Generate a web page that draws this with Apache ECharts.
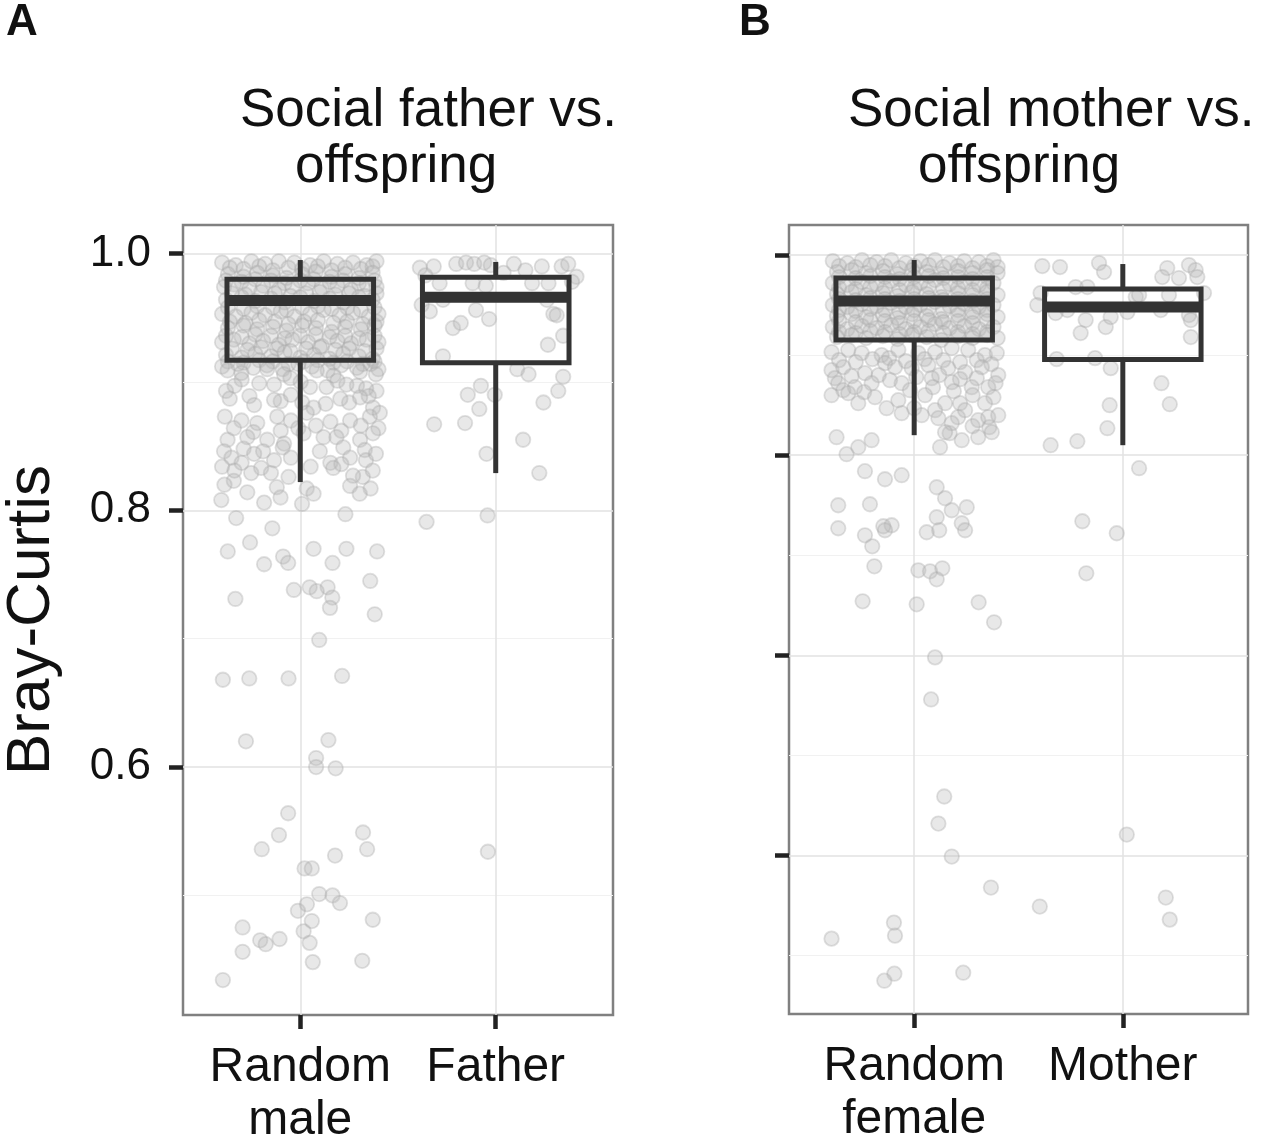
<!DOCTYPE html>
<html>
<head>
<meta charset="utf-8">
<script src="https://cdn.jsdelivr.net/npm/echarts@6/dist/echarts.min.js"></script>
<style>
html,body{margin:0;padding:0;background:#fff;}
#chart{width:1267px;height:1147px;}
</style>
</head>
<body>
<div id="chart"></div>
<script>
// ---------- data ----------
const yTicks = [0.4, 0.6, 0.8, 1.0];
const catsA = ['Random\nmale', 'Father'];
const catsB = ['Random\nfemale', 'Mother'];
const titleA = ['Social father vs.', 'offspring'];
const titleB = ['Social mother vs.', 'offspring'];
const yName = 'Bray-Curtis';

// boxes: [group position, lower whisker, Q1, median, Q3, upper whisker]
const boxA = [
  [1, 0.822, 0.917, 0.9635, 0.980, 0.995],
  [2, 0.829, 0.915, 0.966, 0.9815, 0.9935]
];
const boxB = [
  [1, 0.820, 0.915, 0.954, 0.977, 0.995],
  [2, 0.810, 0.8955, 0.948, 0.966, 0.991]
];

// jittered points: [group position + jitter, Bray-Curtis value]
const ptsRandomMale = [
  [0.60,0.993],[0.67,0.991],[0.75,0.994],[0.82,0.992],[0.89,0.994],[0.97,0.993],[1.05,0.991],[1.12,0.994],[1.19,0.992],[1.27,0.993],[1.34,0.991],[1.39,0.994],
  [0.64,0.989],[0.71,0.988],[0.79,0.990],[0.86,0.987],[0.94,0.989],[1.01,0.988],[1.09,0.990],[1.16,0.987],[1.23,0.989],[1.31,0.988],[1.37,0.990],
  [0.63,0.984],[0.71,0.982],[0.78,0.985],[0.86,0.983],[0.93,0.981],[1.01,0.984],[1.08,0.986],[1.16,0.982],[1.23,0.984],[1.30,0.981],[1.37,0.985],
  [0.62,0.979],[0.70,0.978],[0.77,0.980],[0.85,0.979],[0.92,0.977],[1.00,0.979],[1.07,0.980],[1.15,0.978],[1.22,0.979],[1.30,0.977],[1.38,0.979],
  [0.61,0.974],[0.66,0.976],[0.74,0.973],[0.81,0.975],[0.89,0.972],[0.96,0.974],[1.04,0.977],[1.11,0.973],[1.19,0.975],[1.26,0.972],[1.34,0.976],[1.39,0.974],
  [0.65,0.969],[0.72,0.968],[0.80,0.970],[0.87,0.969],[0.95,0.967],[1.03,0.969],[1.10,0.970],[1.18,0.968],[1.25,0.969],[1.33,0.967],[1.39,0.969],
  [0.62,0.964],[0.70,0.966],[0.77,0.963],[0.85,0.965],[0.92,0.962],[1.00,0.966],[1.07,0.963],[1.15,0.965],[1.22,0.962],[1.30,0.966],[1.37,0.964],
  [0.63,0.958],[0.71,0.957],[0.78,0.959],[0.86,0.958],[0.93,0.956],[1.01,0.958],[1.09,0.959],[1.16,0.957],[1.24,0.958],[1.31,0.956],[1.38,0.958],
  [0.60,0.953],[0.67,0.951],[0.75,0.954],[0.82,0.952],[0.90,0.955],[0.97,0.951],[1.05,0.953],[1.12,0.956],[1.20,0.952],[1.27,0.954],[1.35,0.951],[1.40,0.953],
  [0.64,0.947],[0.72,0.946],[0.79,0.948],[0.87,0.947],[0.94,0.945],[1.02,0.947],[1.09,0.948],[1.17,0.946],[1.24,0.947],[1.32,0.945],[1.39,0.947],
  [0.63,0.942],[0.71,0.944],[0.78,0.941],[0.86,0.943],[0.93,0.940],[1.01,0.944],[1.08,0.942],[1.16,0.939],[1.23,0.943],[1.31,0.941],[1.38,0.944],
  [0.62,0.936],[0.70,0.935],[0.77,0.937],[0.85,0.936],[0.92,0.934],[1.00,0.936],[1.08,0.937],[1.15,0.935],[1.23,0.936],[1.30,0.934],[1.38,0.936],
  [0.60,0.931],[0.66,0.933],[0.74,0.930],[0.81,0.932],[0.89,0.929],[0.96,0.933],[1.04,0.931],[1.11,0.928],[1.19,0.932],[1.26,0.930],[1.34,0.933],[1.40,0.931],
  [0.65,0.926],[0.73,0.925],[0.80,0.927],[0.88,0.926],[0.95,0.924],[1.03,0.926],[1.10,0.927],[1.18,0.925],[1.25,0.926],[1.33,0.924],[1.39,0.926],
  [0.62,0.921],[0.70,0.919],[0.77,0.922],[0.85,0.920],[0.92,0.923],[1.00,0.919],[1.07,0.921],[1.15,0.918],[1.22,0.922],[1.30,0.920],[1.37,0.918],
  [0.63,0.916],[0.71,0.915],[0.79,0.917],[0.86,0.916],[0.94,0.914],[1.02,0.916],[1.09,0.917],[1.17,0.915],[1.24,0.916],[1.32,0.914],[1.38,0.916],
  [0.60,0.912],[0.68,0.914],[0.76,0.911],[0.83,0.913],[0.91,0.910],[0.99,0.914],[1.06,0.912],[1.14,0.909],[1.21,0.913],[1.29,0.911],[1.36,0.914],[1.40,0.910],
  [0.628,0.909],[0.699,0.907],[0.831,0.910],[0.917,0.906],[1.084,0.909],[1.170,0.905],[1.306,0.908],[1.387,0.906],
  [0.70,0.902],[0.79,0.899],[0.95,0.903],[1.05,0.896],[1.19,0.901],[1.29,0.897],[1.39,0.893],
  [0.664,0.897],[0.866,0.898],[1.002,0.900],[1.134,0.896],[1.236,0.898],[1.337,0.895],
  [0.62,0.893],[0.74,0.889],[0.90,0.885],[1.01,0.884],[1.13,0.883],[1.25,0.884],[1.35,0.889],
  [0.639,0.887],[0.764,0.882],[0.866,0.886],[0.952,0.890],[1.068,0.880],[1.205,0.887],[1.306,0.888],[1.372,0.880],
  [0.614,0.873],[0.699,0.870],[0.780,0.868],[0.882,0.873],[0.952,0.870],[1.033,0.876],[1.154,0.869],[1.255,0.870],[1.356,0.873],[1.407,0.876],
  [0.66,0.864],[0.76,0.861],[0.90,0.862],[0.99,0.864],[1.08,0.866],[1.21,0.862],[1.31,0.866],[1.40,0.864],
  [0.628,0.855],[0.729,0.857],[0.831,0.855],[0.917,0.852],[1.017,0.860],[1.119,0.857],[1.185,0.857],[1.306,0.855],[1.372,0.860],
  [0.61,0.846],[0.71,0.848],[0.81,0.846],[0.91,0.849],[1.10,0.846],[1.22,0.849],[1.33,0.847],
  [0.648,0.841],[0.764,0.844],[0.866,0.839],[0.952,0.841],[1.053,0.834],[1.154,0.837],[1.255,0.841],[1.336,0.839],[1.387,0.844],
  [0.60,0.834],[0.70,0.837],[0.80,0.833],[1.21,0.836],[1.32,0.826],[0.66,0.823],[0.94,0.826],[1.36,0.817],
  [0.663,0.831],[0.749,0.829],[0.850,0.829],[1.169,0.833],[1.270,0.827],[1.371,0.831],
  [0.612,0.820],[0.880,0.818],[1.033,0.817],[1.255,0.819],
  [0.729,0.814],[1.068,0.813],[1.304,0.813],[0.899,0.810],[0.596,0.808],[0.815,0.806],[1.009,0.805],
  [1.231,0.797],[0.672,0.794],[0.857,0.786],[0.743,0.775],[1.068,0.770],[1.236,0.770],[0.629,0.768],[1.393,0.768],
  [0.912,0.764],[0.938,0.759],[1.165,0.759],[0.815,0.758],[1.358,0.745],[1.048,0.740],[1.140,0.740],[0.967,0.738],
  [1.084,0.737],[1.164,0.732],[0.668,0.731],[1.152,0.724],[1.381,0.719],[1.097,0.699],
  [1.214,0.671],[0.739,0.669],[0.940,0.669],[0.604,0.668],[1.144,0.621],[0.722,0.620],[1.081,0.607],[1.081,0.600],[1.181,0.599],
  [0.938,0.564],[1.321,0.549],[0.891,0.547],[0.803,0.536],[1.342,0.536],[1.178,0.531],[1.022,0.521],[1.059,0.521],
  [1.097,0.501],[1.165,0.500],[1.203,0.494],[1.034,0.493],[0.988,0.488],[1.371,0.481],[1.059,0.480],[0.705,0.475],
  [1.017,0.472],[0.894,0.466],[0.795,0.465],[1.048,0.463],[0.823,0.462],[0.705,0.456],[1.317,0.449],[1.064,0.448],[0.604,0.434]
];
const ptsFather = [
  [1.612,0.989],[1.683,0.990],[1.798,0.992],[1.848,0.993],[1.890,0.992],[1.941,0.993],[1.975,0.991],[2.093,0.992],
  [2.152,0.987],[2.236,0.990],[2.337,0.990],[2.371,0.992],[2.413,0.982],[1.713,0.977],[1.882,0.977],[1.949,0.975],
  [2.186,0.977],[2.270,0.977],[1.621,0.960],[1.663,0.955],[1.730,0.964],[1.899,0.956],[1.966,0.949],[1.781,0.942],
  [1.821,0.946],[2.295,0.953],[2.312,0.952],[2.262,0.964],[2.345,0.936],[2.267,0.929],[1.730,0.920],[2.110,0.910],
  [2.168,0.906],[2.345,0.904],[2.320,0.893],[1.924,0.897],[1.857,0.890],[1.995,0.890],[1.916,0.879],[2.244,0.884],
  [1.685,0.867],[1.843,0.868],[2.140,0.855],[1.953,0.844],[2.223,0.829],[1.646,0.791],[1.958,0.796],[1.960,0.534],
  [2.040,0.985],[2.390,0.978],[1.640,0.983]
];
const ptsRandomFemale = [
  [0.61,0.994],[0.68,0.992],[0.75,0.995],[0.82,0.993],[0.89,0.995],[0.96,0.992],[1.03,0.994],[1.10,0.995],[1.17,0.992],[1.24,0.994],[1.31,0.993],[1.38,0.995],
  [0.64,0.989],[0.72,0.988],[0.79,0.990],[0.86,0.989],[0.93,0.987],[1.00,0.989],[1.07,0.990],[1.14,0.988],[1.21,0.989],[1.28,0.987],[1.35,0.989],[1.40,0.988],
  [0.63,0.983],[0.70,0.985],[0.77,0.982],[0.85,0.984],[0.92,0.981],[0.99,0.985],[1.06,0.983],[1.13,0.981],[1.21,0.984],[1.28,0.982],[1.35,0.985],[1.40,0.982],
  [0.64,0.978],[0.72,0.977],[0.79,0.979],[0.86,0.978],[0.93,0.976],[1.00,0.978],[1.07,0.979],[1.14,0.977],[1.21,0.978],[1.28,0.976],[1.35,0.978],
  [0.61,0.972],[0.68,0.970],[0.75,0.973],[0.82,0.971],[0.89,0.974],[0.96,0.970],[1.03,0.972],[1.10,0.975],[1.17,0.971],[1.24,0.973],[1.31,0.970],[1.38,0.972],
  [0.64,0.967],[0.72,0.966],[0.79,0.968],[0.86,0.967],[0.93,0.965],[1.00,0.967],[1.07,0.968],[1.14,0.966],[1.21,0.967],[1.28,0.965],[1.35,0.967],
  [0.63,0.961],[0.70,0.963],[0.77,0.960],[0.85,0.962],[0.92,0.959],[0.99,0.963],[1.06,0.961],[1.13,0.958],[1.21,0.962],[1.28,0.960],[1.35,0.963],[1.40,0.960],
  [0.64,0.956],[0.72,0.955],[0.79,0.957],[0.86,0.956],[0.93,0.954],[1.00,0.956],[1.07,0.957],[1.14,0.955],[1.21,0.956],[1.28,0.954],[1.35,0.956],
  [0.61,0.950],[0.68,0.948],[0.75,0.951],[0.82,0.949],[0.89,0.952],[0.96,0.948],[1.03,0.950],[1.10,0.953],[1.17,0.949],[1.24,0.951],[1.31,0.948],[1.38,0.950],
  [0.64,0.945],[0.72,0.944],[0.79,0.946],[0.86,0.945],[0.93,0.943],[1.00,0.945],[1.07,0.946],[1.14,0.944],[1.21,0.945],[1.28,0.943],[1.35,0.945],
  [0.63,0.939],[0.70,0.941],[0.77,0.938],[0.85,0.940],[0.92,0.937],[0.99,0.941],[1.06,0.939],[1.13,0.936],[1.21,0.940],[1.28,0.938],[1.35,0.941],[1.40,0.938],
  [0.64,0.934],[0.72,0.933],[0.79,0.935],[0.86,0.934],[0.93,0.932],[1.00,0.934],[1.07,0.935],[1.14,0.933],[1.21,0.934],[1.28,0.932],[1.35,0.934],
  [0.61,0.928],[0.68,0.926],[0.75,0.929],[0.82,0.927],[0.89,0.930],[0.96,0.926],[1.03,0.928],[1.10,0.931],[1.17,0.927],[1.24,0.929],[1.31,0.926],[1.38,0.928],
  [0.64,0.923],[0.72,0.922],[0.79,0.924],[0.86,0.923],[0.93,0.921],[1.00,0.923],[1.07,0.924],[1.14,0.922],[1.21,0.923],[1.28,0.921],[1.35,0.923],
  [0.63,0.918],[0.70,0.920],[0.77,0.917],[0.85,0.919],[0.92,0.916],[0.99,0.920],[1.06,0.918],[1.13,0.915],[1.21,0.919],[1.28,0.917],[1.35,0.920],[1.40,0.917],
  [0.604,0.903],[0.684,0.905],[0.748,0.902],[0.844,0.900],[0.924,0.905],[1.020,0.902],[1.100,0.903],[1.180,0.907],[1.259,0.905],[1.339,0.900],[1.396,0.902],
  [0.64,0.895],[0.72,0.893],[0.80,0.896],[0.88,0.897],[0.96,0.894],[1.05,0.896],[1.14,0.895],[1.22,0.893],[1.30,0.895],[1.37,0.891],
  [0.604,0.885],[0.660,0.888],[0.764,0.882],[0.860,0.892],[0.908,0.888],[0.988,0.887],[1.068,0.890],[1.163,0.887],[1.244,0.883],[1.324,0.888],[1.403,0.880],
  [0.62,0.877],[0.70,0.879],[0.83,0.880],[1.01,0.878],[1.12,0.880],[1.22,0.876],[1.30,0.877],[1.39,0.872],
  [0.636,0.872],[0.716,0.868],[0.796,0.872],[0.884,0.875],[0.940,0.872],[1.084,0.877],[1.180,0.873],[1.276,0.868],[1.355,0.868],
  [0.66,0.865],[0.76,0.863],[0.98,0.865],[1.09,0.868],[1.19,0.864],[1.28,0.860],[1.38,0.858],
  [0.604,0.860],[0.684,0.862],[0.732,0.852],[0.812,0.858],[0.868,0.847],[0.924,0.855],[1.052,0.860],[1.148,0.852],[1.220,0.852],[1.339,0.852],
  [1.00,0.847],[1.10,0.845],[1.21,0.838],[1.28,0.829],[1.36,0.828],[1.17,0.822],
  [0.940,0.842],[1.036,0.840],[1.116,0.837],[1.180,0.832],[1.244,0.845],[1.307,0.835],[1.355,0.838],[1.403,0.840],
  [1.148,0.823],[1.228,0.815],[1.307,0.818],[1.372,0.823],[1.124,0.808],
  [0.628,0.818],[0.796,0.815],[0.732,0.808],[0.676,0.801],[0.764,0.784],[0.860,0.776],[0.940,0.780],
  [0.636,0.750],[0.788,0.751],[0.892,0.730],[0.852,0.729],[1.108,0.768],[1.148,0.757],[1.180,0.745],[1.252,0.748],
  [1.108,0.738],[1.228,0.732],[0.636,0.727],[0.764,0.720],[1.060,0.723],[0.799,0.709],[0.860,0.725],[1.120,0.725],[1.244,0.725],
  [0.809,0.689],[1.020,0.685],[1.076,0.684],[1.135,0.687],[1.108,0.676],[0.753,0.654],[1.012,0.651],[1.309,0.653],[1.383,0.633],
  [1.100,0.598],[1.081,0.556],[1.144,0.459],[1.116,0.432],[1.180,0.399],[1.368,0.368],
  [0.903,0.333],[0.908,0.320],[0.604,0.317],[0.905,0.282],[0.857,0.275],[1.235,0.283]
];
const ptsMother = [
  [1.614,0.989],[1.699,0.988],[1.886,0.992],[1.910,0.983],[2.213,0.987],[2.189,0.978],[2.317,0.990],[2.349,0.985],
  [2.357,0.978],[2.269,0.977],[1.606,0.962],[1.590,0.950],[1.774,0.968],[1.830,0.968],[2.062,0.958],[2.078,0.960],
  [2.221,0.960],[2.389,0.962],[1.678,0.942],[1.734,0.945],[1.822,0.935],[1.798,0.922],[1.918,0.928],[1.942,0.938],
  [2.022,0.943],[2.182,0.945],[2.317,0.940],[2.326,0.935],[2.326,0.918],[1.683,0.896],[1.867,0.897],[1.942,0.887],
  [2.185,0.872],[1.937,0.850],[2.225,0.851],[1.926,0.827],[1.782,0.814],[1.654,0.810],[2.078,0.787],[1.806,0.734],
  [1.971,0.722],[1.825,0.682],[2.019,0.421],[1.602,0.349],[2.206,0.358],[2.225,0.336]
];

// ---------- styling ----------
const FONT = 'Liberation Sans, Arial, Helvetica, sans-serif';
const BOX_WIDTH = 0.75;
const pointStyle = {
  color: 'rgba(185,185,185,0.40)',
  borderColor: 'rgba(170,170,170,0.45)',
  borderWidth: 1.8
};

function renderBox(params, api) {
  const x = api.value(0);
  const lo = api.value(1), q1 = api.value(2), med = api.value(3), q3 = api.value(4), hi = api.value(5);
  const h = BOX_WIDTH / 2;
  const tl = api.coord([x - h, q3]);
  const br = api.coord([x + h, q1]);
  const pm = api.coord([x, med]);
  const plo = api.coord([x, lo]);
  const phi = api.coord([x, hi]);
  const stroke = '#333333';
  return {
    type: 'group',
    children: [
      {type: 'line', shape: {x1: phi[0], y1: phi[1], x2: phi[0], y2: tl[1]}, style: {stroke: stroke, lineWidth: 5}},
      {type: 'line', shape: {x1: plo[0], y1: plo[1], x2: plo[0], y2: br[1]}, style: {stroke: stroke, lineWidth: 5}},
      {type: 'rect', shape: {x: tl[0], y: tl[1], width: br[0] - tl[0], height: br[1] - tl[1]}, style: {stroke: stroke, lineWidth: 5, fill: 'none'}},
      {type: 'line', shape: {x1: tl[0], y1: pm[1], x2: br[0], y2: pm[1]}, style: {stroke: stroke, lineWidth: 11}}
    ]
  };
}

function xAxisFor(idx, cats) {
  return {
    type: 'value', gridIndex: idx, min: 0.4, max: 2.6, splitNumber: 2,
    axisLine: {show: false},
    axisTick: {show: true, customValues: [1, 2], length: 14, lineStyle: {color: '#222', width: 4.5}},
    axisLabel: {
      show: true, customValues: [1, 2], margin: 26,
      formatter: v => cats[Math.round(v) - 1],
      fontSize: 48, lineHeight: 53, color: '#111', fontFamily: FONT
    },
    splitLine: {show: true, lineStyle: {color: '#e2e2e2', width: 1.5}},
    minorSplitLine: {show: false}
  };
}
function yAxisFor(idx, min, max, splitNumber, showLabels) {
  return {
    type: 'value', gridIndex: idx, min: min, max: max, splitNumber: splitNumber,
    axisLine: {show: false},
    axisTick: {show: true, customValues: yTicks, length: 14, lineStyle: {color: '#222', width: 4.5}},
    minorTick: {show: false, splitNumber: 2},
    axisLabel: {
      show: showLabels, customValues: yTicks, margin: 32,
      formatter: v => v.toFixed(1),
      fontSize: 44, color: '#111', fontFamily: FONT
    },
    splitLine: {show: true, lineStyle: {color: '#e2e2e2', width: 1.5}},
    minorSplitLine: {show: true, lineStyle: {color: '#f1f1f1', width: 1.2}}
  };
}

const titleStyle = {fontSize: 53, fontWeight: 'normal', color: '#111', fontFamily: FONT, lineHeight: 53};
const letterStyle = {fontSize: 44, fontWeight: 'bold', color: '#111', fontFamily: FONT, lineHeight: 44};

const option = {
  animation: false,
  backgroundColor: '#ffffff',
  title: [
    {text: 'A', left: 6, top: 1, padding: 0, textStyle: letterStyle},
    {text: 'B', left: 739, top: 1, padding: 0, textStyle: letterStyle},
    {text: titleA[0], left: 240, top: 85, padding: 0, textStyle: titleStyle},
    {text: titleA[1], left: 295, top: 141, padding: 0, textStyle: titleStyle},
    {text: titleB[0], left: 848, top: 85, padding: 0, textStyle: titleStyle},
    {text: titleB[1], left: 918, top: 141, padding: 0, textStyle: titleStyle}
  ],
  grid: [
    {left: 177, top: 225, width: 436, height: 790, show: true, borderColor: '#808080', borderWidth: 2.5, backgroundColor: '#fff'},
    {left: 789, top: 225, width: 459, height: 789, show: true, borderColor: '#808080', borderWidth: 2.5, backgroundColor: '#fff'}
  ],
  xAxis: [xAxisFor(0, catsA), xAxisFor(1, catsB)],
  yAxis: [
    Object.assign(yAxisFor(0, 0.4068, 1.0223, 3, true), {
      name: yName, nameLocation: 'middle', nameRotate: 90, nameGap: 120,
      nameTextStyle: {fontSize: 62, color: '#111', fontFamily: FONT, lineHeight: 62}
    }),
    yAxisFor(1, 0.2417, 1.030, 4, false)
  ],
  series: [
    {type: 'scatter', xAxisIndex: 0, yAxisIndex: 0, data: ptsRandomMale, symbolSize: 14.5, itemStyle: pointStyle, z: 2, silent: true},
    {type: 'scatter', xAxisIndex: 0, yAxisIndex: 0, data: ptsFather, symbolSize: 14.5, itemStyle: pointStyle, z: 2, silent: true},
    {type: 'scatter', xAxisIndex: 1, yAxisIndex: 1, data: ptsRandomFemale, symbolSize: 14.5, itemStyle: pointStyle, z: 2, silent: true},
    {type: 'scatter', xAxisIndex: 1, yAxisIndex: 1, data: ptsMother, symbolSize: 14.5, itemStyle: pointStyle, z: 2, silent: true},
    {type: 'custom', xAxisIndex: 0, yAxisIndex: 0, data: boxA, renderItem: renderBox, z: 5, silent: true,
      encode: {x: 0, y: [1, 2, 3, 4, 5]}},
    {type: 'custom', xAxisIndex: 1, yAxisIndex: 1, data: boxB, renderItem: renderBox, z: 5, silent: true,
      encode: {x: 0, y: [1, 2, 3, 4, 5]}}
  ]
};

const chart = echarts.init(document.getElementById('chart'), null, {renderer: 'canvas'});
chart.setOption(option);
</script>
</body>
</html>
